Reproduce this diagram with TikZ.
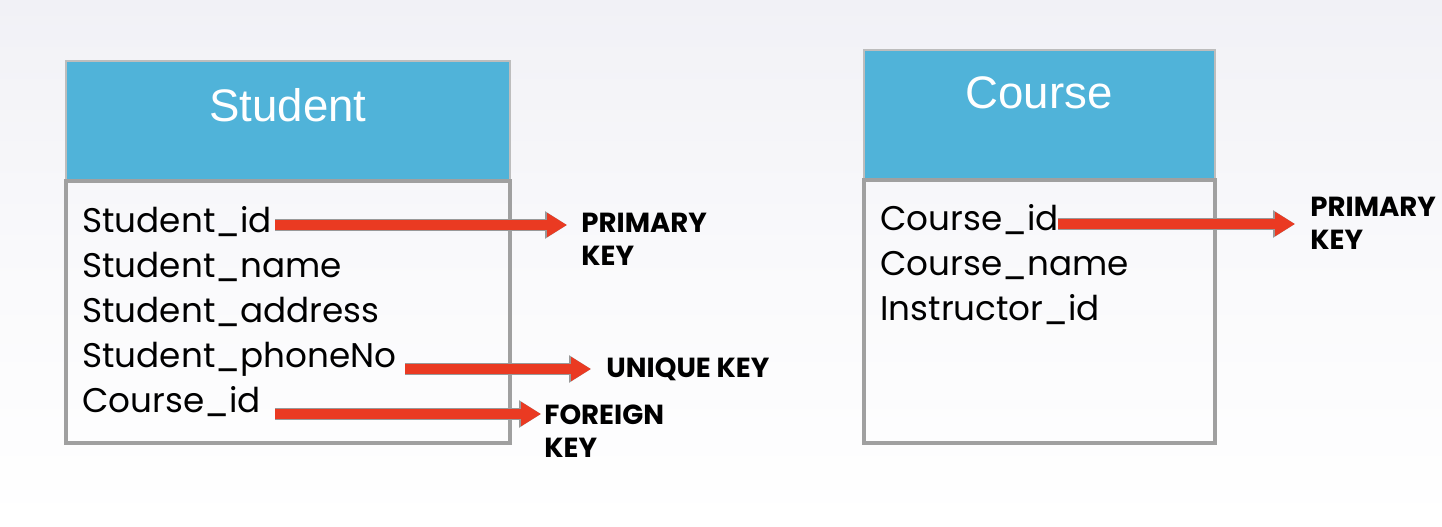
\documentclass[tikz,border=0pt]{standalone}
\usepackage{fontspec}
\setmainfont{Liberation Sans}
\newfontfamily\fieldfont{Poppins}
\newfontfamily\labelfont{Poppins}[UprightFont=* Bold]
\usetikzlibrary{arrows.meta}
\definecolor{hdr}{HTML}{50B3D9}
\definecolor{arr}{HTML}{EA3A22}
\definecolor{bord}{HTML}{A0A0A0}
\definecolor{bgtop}{HTML}{F1F1F6}
\tikzset{
  hdrbox/.style={fill=hdr, draw=bord!70, line width=0.6pt},
  bodybox/.style={draw=bord, line width=1.6pt},
  title/.style={text=white, font=\fontsize{22.8}{26}\selectfont, inner sep=0pt},
  field/.style={anchor=base west, font=\fieldfont\fontsize{17.1}{20}\selectfont, inner sep=0pt},
  keylabel/.style={anchor=north west, align=left, font=\labelfont\fontsize{13.8}{16.5}\selectfont, inner sep=0pt},
  keyarrow/.style={draw=arr, line width=5pt, -{Triangle[length=10pt,width=11.5pt]},
    preaction={draw=gray!80, line width=5.8pt, -{Triangle[length=11pt,width=13pt]}}},
}
\begin{document}
\begin{tikzpicture}[x=0.5pt,y=-0.5pt]
\shade[top color=bgtop, bottom color=white, middle color=bgtop!40] (0,0) rectangle (1442,526);
\useasboundingbox (0,0) rectangle (1442,526);
% Student table
\draw[hdrbox] (66,61) rectangle (510,181);
\node[title] (stitle) at (288,105) {Student};
\draw[bodybox] (66,181) rectangle (510,443);
\node[field] (sid) at (82,232) {Student\_id};
\node[field] (sname) at (82,277) {Student\_name};
\node[field] (saddr) at (82,322) {Student\_address};
\node[field] (sphone) at (82,367) {Student\_phoneNo};
\node[field] (scid) at (82,412) {Course\_id};
% Course table
\draw[hdrbox] (864,50) rectangle (1215,180);
\node[title] (ctitle) at (1039,93) {Course};
\draw[bodybox] (864,180) rectangle (1215,443);
\node[field] (cid) at (880,230) {Course\_id};
\node[field] (cname) at (880,275) {Course\_name};
\node[field] (cinst) at (880,320) {Instructor\_id};
% labels
\node[keylabel] (pk1) at (581,213) {PRIMARY\\KEY};
\node[keylabel, anchor=west] (uk) at (606,369) {UNIQUE KEY};
\node[keylabel] (fk) at (544,404) {FOREIGN\\KEY};
\node[keylabel] (pk2) at (1310,197) {PRIMARY\\KEY};
% arrow anchors
\coordinate (a1s) at (275,225); \coordinate (a1e) at (567,225);
\coordinate (a2s) at (405,369); \coordinate (a2e) at (591,369);
\coordinate (a3s) at (275,414); \coordinate (a3e) at (541,414);
\coordinate (a4s) at (1058,224); \coordinate (a4e) at (1295,224);
\draw[keyarrow] (a1s) -- (a1e);
\draw[keyarrow] (a2s) -- (a2e);
\draw[keyarrow] (a3s) -- (a3e);
\draw[keyarrow] (a4s) -- (a4e);
\end{tikzpicture}
\end{document}
